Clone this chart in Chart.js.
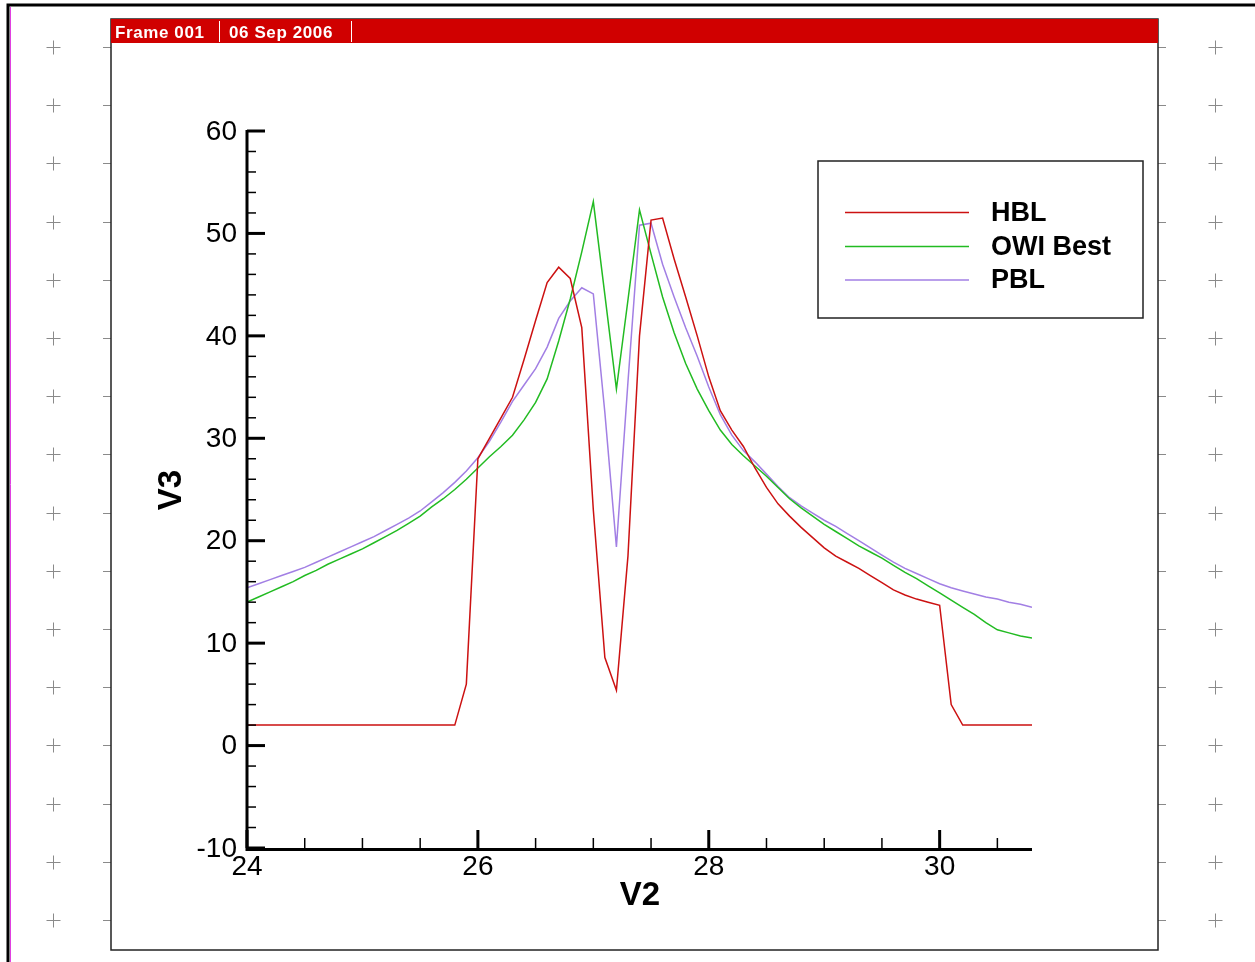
<!DOCTYPE html>
<html>
<head>
<meta charset="utf-8">
<title>V3 vs V2</title>
<script src="https://cdn.jsdelivr.net/npm/chart.js@4"></script>
<style>
  html, body { margin: 0; padding: 0; background: #fff; }
  #wrap { width: 1255px; height: 962px; position: relative; }
</style>
</head>
<body>
<div id="wrap"><canvas id="plot" width="1255" height="962"></canvas></div>
<script>
// sample positions along V2
const v2 = [
  24.0, 24.1, 24.2, 24.3, 24.4, 24.5, 24.6, 24.7, 24.8, 24.9,
  25.0, 25.1, 25.2, 25.3, 25.4, 25.5, 25.6, 25.7, 25.8, 25.9,
  26.0, 26.1, 26.2, 26.3, 26.4, 26.5, 26.6, 26.7, 26.8, 26.9,
  27.0, 27.1, 27.2, 27.3, 27.4, 27.5, 27.6, 27.7, 27.8, 27.9,
  28.0, 28.1, 28.2, 28.3, 28.4, 28.5, 28.6, 28.7, 28.8, 28.9,
  29.0, 29.1, 29.2, 29.3, 29.4, 29.5, 29.6, 29.7, 29.8, 29.9,
  30.0, 30.1, 30.2, 30.3, 30.4, 30.5, 30.6, 30.7, 30.8
];

const hbl = [
  2, 2, 2, 2, 2, 2, 2, 2, 2, 2,
  2, 2, 2, 2, 2, 2, 2, 2, 2, 6.0,
  28.0, 30.0, 32.0, 34.0, 37.7, 41.5, 45.2, 46.7, 45.6, 40.8,
  23.0, 8.6, 5.4, 18.5, 40.0, 51.3, 51.5, 47.5, 43.8, 40.0,
  36.0, 32.7, 30.8, 29.2, 27.1, 25.2, 23.6, 22.4, 21.3, 20.3,
  19.3, 18.5, 17.9, 17.3, 16.6, 15.9, 15.2, 14.7, 14.3, 14.0,
  13.7, 4.0, 2.0, 2, 2, 2, 2, 2, 2
];

const owiBest = [
  14.0, 14.5, 15.0, 15.5, 16.0, 16.6, 17.1, 17.7, 18.2, 18.7,
  19.2, 19.8, 20.4, 21.0, 21.7, 22.4, 23.3, 24.1, 25.0, 26.0,
  27.1, 28.2, 29.2, 30.3, 31.8, 33.5, 35.8, 39.5, 43.6, 48.2,
  53.1, 44.0, 34.8, 43.5, 52.3, 48.0, 43.8, 40.3, 37.3, 34.8,
  32.7, 30.8, 29.4, 28.3, 27.3, 26.3, 25.2, 24.1, 23.2, 22.4,
  21.6, 20.9, 20.2, 19.5, 18.9, 18.3, 17.6, 16.9, 16.3, 15.6,
  14.9, 14.2, 13.5, 12.8, 12.0, 11.3, 11.0, 10.7, 10.5
];

const pbl = [
  15.4, 15.8, 16.2, 16.6, 17.0, 17.4, 17.9, 18.4, 18.9, 19.4,
  19.9, 20.4, 21.0, 21.6, 22.2, 22.9, 23.8, 24.7, 25.7, 26.8,
  28.1, 29.7, 31.6, 33.6, 35.2, 36.8, 38.9, 41.7, 43.4, 44.7,
  44.1, 32.5, 19.4, 35.5, 50.8, 51.0, 47.0, 43.8, 40.8, 38.0,
  35.0, 32.3, 30.3, 28.8, 27.7, 26.5, 25.3, 24.2, 23.4, 22.7,
  22.0, 21.4, 20.7, 20.0, 19.3, 18.6, 17.9, 17.3, 16.8, 16.3,
  15.8, 15.4, 15.1, 14.8, 14.5, 14.3, 14.0, 13.8, 13.5
];

const seriesNames = ['HBL', 'OWI Best', 'PBL'];
const seriesColors = ['#cc1111', '#22bb22', '#a27fe4'];

const xMajorTicks = [24, 26, 28, 30];
const xMinorTicks = [24.5, 25, 25.5, 26.5, 27, 27.5, 28.5, 29, 29.5, 30.5];
const yMajorTicks = [60, 50, 40, 30, 20, 10, 0, -10];
const yMinorTicks = [58, 56, 54, 52, 48, 46, 44, 42, 38, 36, 34, 32, 28, 26, 24, 22,
                     18, 16, 14, 12, 8, 6, 4, 2, -2, -4, -6, -8];

const headerText = ['Frame 001', '06 Sep 2006'];

function toPoints(ys) {
    return ys.map((y, i) => ({ x: v2[i], y }));
}

// page furniture: border, side crosses, frame box and red title strip
const framePlugin = {
    id: 'frame',
    beforeDraw(chart) {
        const c = chart.ctx;
        c.save();
        c.fillStyle = '#fff';
        c.fillRect(0, 0, chart.width, chart.height);

        // outer border (top and left)
        c.strokeStyle = '#000';
        c.lineWidth = 3;
        c.beginPath();
        c.moveTo(8, 962); c.lineTo(8, 5); c.lineTo(1255, 5);
        c.stroke();
        c.strokeStyle = '#e040e0';
        c.lineWidth = 1;
        c.beginPath();
        c.moveTo(10.5, 962); c.lineTo(10.5, 7);
        c.stroke();

        // crosses and side dashes
        c.strokeStyle = '#8a8a8a';
        c.lineWidth = 1;
        for (let i = 0; i < 16; i++) {
            const y = Math.round(47 + i * 58.2) + 0.5;
            [53.5, 1215.5].forEach(x => {
                c.beginPath();
                c.moveTo(x - 7, y); c.lineTo(x + 7, y);
                c.moveTo(x, y - 7); c.lineTo(x, y + 7);
                c.stroke();
            });
            c.beginPath();
            c.moveTo(103, y); c.lineTo(111, y);
            c.moveTo(1158, y); c.lineTo(1166, y);
            c.stroke();
        }

        // frame box
        c.fillStyle = '#fff';
        c.fillRect(111, 19, 1047, 931);
        c.strokeStyle = '#222';
        c.lineWidth = 1.5;
        c.strokeRect(111, 19, 1047, 931);

        // title strip
        c.fillStyle = '#d00000';
        c.fillRect(111, 19, 1047, 24);
        c.strokeStyle = '#fff';
        c.lineWidth = 1;
        c.beginPath();
        c.moveTo(219.5, 21); c.lineTo(219.5, 42);
        c.moveTo(351.5, 21); c.lineTo(351.5, 42);
        c.stroke();
        c.fillStyle = '#fff';
        c.font = 'bold 17px "Liberation Sans", Arial, sans-serif';
        c.letterSpacing = '0.6px';
        c.textBaseline = 'alphabetic';
        c.textAlign = 'left';
        c.fillText(headerText[0], 115, 38);
        c.fillText(headerText[1], 229, 38);
        c.restore();
    }
};

// axes with inward ticks, tick labels, titles and the legend box
const axesPlugin = {
    id: 'axes',
    afterDatasetsDraw(chart) {
        const c = chart.ctx;
        const xs = chart.scales.x;
        const ys = chart.scales.y;
        const left = xs.getPixelForValue(24);
        const right = xs.getPixelForValue(30.8);
        const top = ys.getPixelForValue(60);
        const bottom = ys.getPixelForValue(-10);
        c.save();
        c.strokeStyle = '#000';
        c.lineCap = 'butt';

        c.lineWidth = 3;
        c.beginPath();
        c.moveTo(left, top - 1); c.lineTo(left, bottom + 1.5);
        c.lineTo(right, bottom + 1.5);
        c.stroke();

        // y ticks
        yMajorTicks.forEach(v => {
            const y = ys.getPixelForValue(v);
            c.lineWidth = 3;
            c.beginPath(); c.moveTo(left, y); c.lineTo(left + 18, y); c.stroke();
        });
        yMinorTicks.forEach(v => {
            const y = ys.getPixelForValue(v);
            c.lineWidth = 1.5;
            c.beginPath(); c.moveTo(left, y); c.lineTo(left + 9, y); c.stroke();
        });
        // x ticks
        xMajorTicks.forEach(v => {
            const x = xs.getPixelForValue(v);
            c.lineWidth = 3;
            c.beginPath(); c.moveTo(x, bottom); c.lineTo(x, bottom - 18); c.stroke();
        });
        xMinorTicks.forEach(v => {
            const x = xs.getPixelForValue(v);
            c.lineWidth = 1.5;
            c.beginPath(); c.moveTo(x, bottom); c.lineTo(x, bottom - 10); c.stroke();
        });

        // tick labels
        c.fillStyle = '#000';
        c.font = '28px "Liberation Sans", Arial, sans-serif';
        c.textAlign = 'right';
        c.textBaseline = 'middle';
        yMajorTicks.forEach(v => {
            c.fillText(String(v), left - 10, ys.getPixelForValue(v) + 1);
        });
        c.textAlign = 'center';
        c.textBaseline = 'top';
        xMajorTicks.forEach(v => {
            c.fillText(String(v), xs.getPixelForValue(v), bottom + 5);
        });

        // axis titles
        c.font = 'bold 33px "Liberation Sans", Arial, sans-serif';
        c.textAlign = 'center';
        c.textBaseline = 'middle';
        c.fillText('V2', 640, 896);
        c.save();
        c.translate(172, 490);
        c.rotate(-Math.PI / 2);
        c.fillText('V3', 0, 0);
        c.restore();

        // legend box
        c.fillStyle = '#fff';
        c.fillRect(818, 161, 325, 157);
        c.strokeStyle = '#222';
        c.lineWidth = 1.5;
        c.strokeRect(818, 161, 325, 157);
        const rows = [212.5, 246.5, 280];
        c.font = 'bold 27px "Liberation Sans", Arial, sans-serif';
        c.textAlign = 'left';
        c.textBaseline = 'middle';
        seriesNames.forEach((name, i) => {
            c.strokeStyle = seriesColors[i];
            c.lineWidth = 1.5;
            c.beginPath(); c.moveTo(845, rows[i]); c.lineTo(969, rows[i]); c.stroke();
            c.fillStyle = '#000';
            c.fillText(name, 991, rows[i] + 1);
        });
        c.restore();
    }
};

const seriesData = [hbl, owiBest, pbl];

new Chart(document.getElementById('plot'), {
    type: 'line',
    data: {
        datasets: seriesNames.map((name, i) => ({
            label: name,
            data: toPoints(seriesData[i]),
            borderColor: seriesColors[i],
            borderWidth: 1.5,
            pointRadius: 0,
            tension: 0,
            fill: false
        }))
    },
    options: {
        responsive: false,
        animation: false,
        layout: { padding: { left: 247, right: 223, top: 131, bottom: 114 } },
        plugins: { legend: { display: false }, tooltip: { enabled: false } },
        scales: {
            x: { type: 'linear', min: 24, max: 30.8, display: false },
            y: { type: 'linear', min: -10, max: 60, display: false }
        }
    },
    plugins: [framePlugin, axesPlugin]
});
</script>
</body>
</html>
